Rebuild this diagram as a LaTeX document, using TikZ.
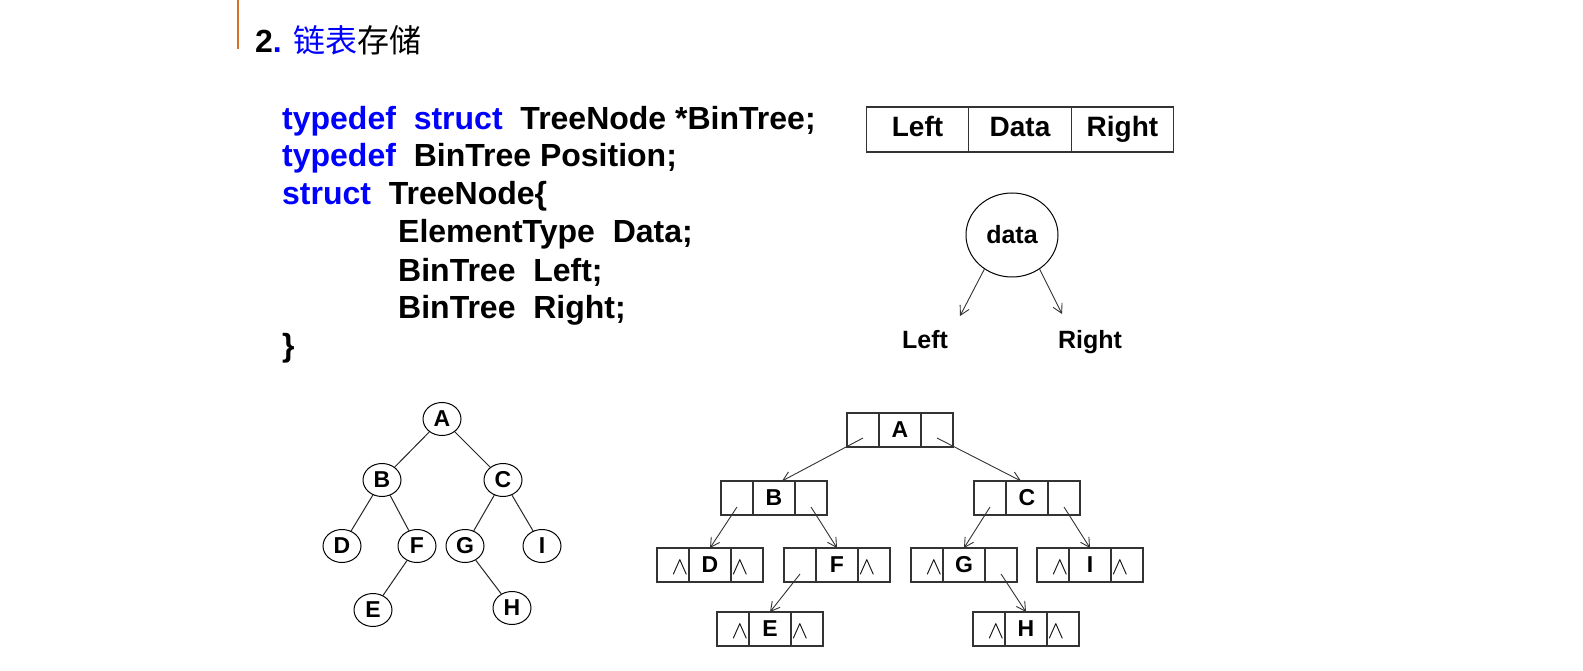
\documentclass[tikz,border=0pt]{standalone}
\usepackage{fontspec}
\setmainfont{Liberation Sans}
\newfontfamily\cjk{Noto Sans CJK SC}
\usetikzlibrary{positioning,shapes.geometric,arrows.meta}
\definecolor{kwblue}{RGB}{0,0,255}
\definecolor{barorange}{RGB}{214,112,36}
\tikzset{
  code/.style={anchor=base west, inner sep=0pt, font=\fontsize{32}{32}\selectfont\bfseries},
  cell/.style={draw=black!80, line width=1.3pt, minimum height=34pt, inner sep=0pt, outer sep=0pt, font=\fontsize{23}{23}\selectfont\bfseries},
  side/.style={cell, minimum width=32pt},
  mid/.style={cell, minimum width=42pt},
  field/.style={draw=black!80, line width=1.3pt, minimum width=102.5pt, minimum height=45pt, inner sep=0pt, outer sep=0pt,
    text height=20pt, text depth=6pt, font=\fontsize{28}{28}\selectfont\bfseries},
  nil/.style={inner sep=0pt, font=\fontsize{27}{27}\selectfont},
  ptr/.style={-{Straight Barb[length=9pt,width=10pt]}, line width=0.9pt, black!80},
  tnode/.style={ellipse, draw, line width=1pt, minimum width=38pt, minimum height=33pt, inner sep=0pt, font=\fontsize{23}{23}\selectfont\bfseries},
  edge/.style={line width=1pt, black!85},
  lbl/.style={inner sep=0pt, text height=18pt, text depth=5pt, font=\fontsize{25}{25}\selectfont\bfseries},
}
\begin{document}
\begin{tikzpicture}[x=1pt,y=-1pt]
\fill[white] (0,0) rectangle (1583,671);
\useasboundingbox (0,0) rectangle (1583,671);

% title
\draw[barorange, line width=2.5pt] (238,0) -- (238,49);
\node[anchor=base west, inner sep=0pt, font=\fontsize{32}{32}\selectfont] (title) at (255,53)
  {\textbf{2\textcolor{kwblue}{.}} {\cjk\textcolor{kwblue}{链表}存储}};

% code
\node[code] (l1) at (282,130) {\textcolor{kwblue}{typedef}~ \textcolor{kwblue}{struct}~ TreeNode *BinTree;};
\node[code] (l2) at (282,167) {\textcolor{kwblue}{typedef}~ BinTree Position;};
\node[code] (l3) at (282,205) {\textcolor{kwblue}{struct}~ TreeNode\{};
\node[code] (l4) at (398,243) {ElementType~ Data;};
\node[code] (l5) at (398,281) {BinTree~ Left;};
\node[code] (l6) at (398,318) {BinTree~ Right;};
\node[code] (l7) at (282,356) {\}};

% node layout
\node[field] (fL) at (917.5,129.5) {Left};
\node[field, right=0pt of fL] (fD) {Data};
\node[field, right=0pt of fD] (fR) {Right};

\node[ellipse, draw, line width=1pt, minimum width=92pt, minimum height=84pt, inner sep=0pt,
  font=\fontsize{25}{25}\selectfont\bfseries] (dn) at (1012,235) {data};
\coordinate (lend) at (960,316);
\coordinate (rend) at (1062,314);
\draw[ptr] (dn.-129) -- (lend);
\draw[ptr] (dn.-51) -- (rend);
\node[lbl] (lleft) at (925,342) {Left};
\node[lbl] (lright) at (1090,342) {Right};

% binary tree
\node[tnode] (tA) at (442,419) {A};
\node[tnode] (tB) at (382,480) {B};
\node[tnode] (tC) at (503,480) {C};
\node[tnode] (tD) at (342,546) {D};
\node[tnode] (tF) at (417,546) {F};
\node[tnode] (tG) at (465,546) {G};
\node[tnode] (tI) at (542,546) {I};
\node[tnode] (tE) at (373,610) {E};
\node[tnode] (tH) at (512,608) {H};

\draw[edge] (tA) -- (tB);
\draw[edge] (tA) -- (tC);
\draw[edge] (tB) -- (tD);
\draw[edge] (tB) -- (tF);
\draw[edge] (tC) -- (tG);
\draw[edge] (tC) -- (tI);
\draw[edge] (tF) -- (tE);
\draw[edge] (tG) -- (tH);

% linked storage
\foreach \n/\x/\y in {A/900/430, B/774/498, C/1027/498, D/710/565, F/837/565,
                      G/964/565, I/1090/565, E/770/629, H/1026/629}{
  \node[mid] (\n) at (\x,\y) {\n};
  \node[side, left=0pt of \n] (\n-l) {};
  \node[side, right=0pt of \n] (\n-r) {};
}
\foreach \n in {D,G,I,E,H}
  \node[nil] (\n-ln) at ([xshift=7pt,yshift=-3pt]\n-l.center) {$\wedge$};
\foreach \n in {D,F,I,E,H}
  \node[nil] (\n-rn) at ([xshift=-7pt,yshift=-3pt]\n-r.center) {$\wedge$};

\draw[ptr] ([yshift=-8pt]A-l.center) -- ([xshift=8pt]B.north);
\draw[ptr] ([yshift=-8pt]A-r.center) -- ([xshift=-6pt]C.north);
\draw[ptr] ([yshift=-9pt]B-l.center) -- (D.north);
\draw[ptr] ([yshift=-9pt]B-r.center) -- (F.north);
\draw[ptr] ([yshift=-9pt]C-l.center) -- (G.north);
\draw[ptr] ([yshift=-9pt]C-r.center) -- (I.north);
\draw[ptr] ([yshift=-9pt]F-l.center) -- (E.north);
\draw[ptr] ([yshift=-9pt]G-r.center) -- (H.north);
\end{tikzpicture}
\end{document}
